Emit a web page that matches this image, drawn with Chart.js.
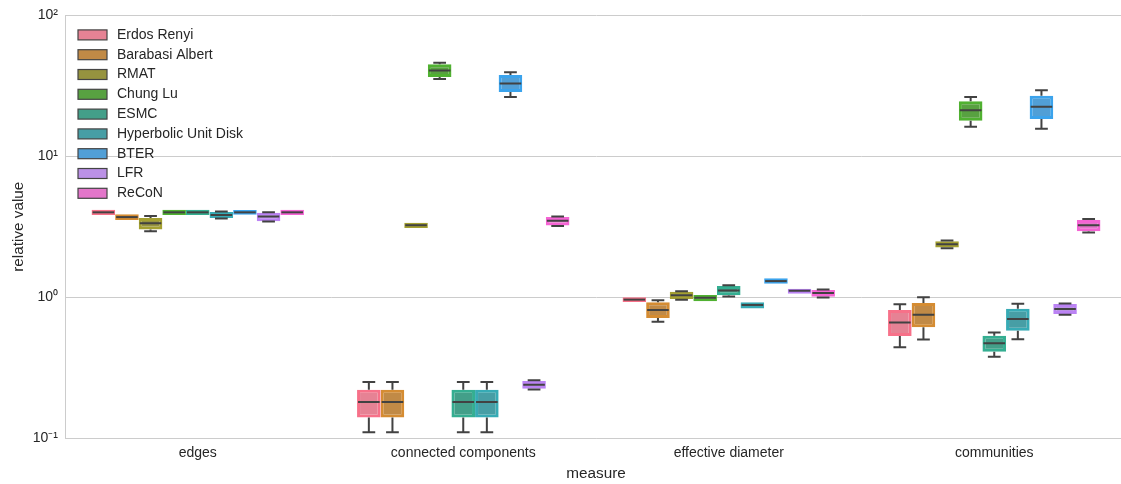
<!DOCTYPE html>
<html><head><meta charset="utf-8">
<script src="https://cdn.jsdelivr.net/npm/chart.js@4.4.1/dist/chart.umd.min.js"></script>
<style>html,body{margin:0;padding:0;background:#fff;overflow:hidden}#wrap{width:1121px;height:484px;overflow:hidden}</style>
</head><body><div id="wrap"><canvas id="c" width="1127" height="484"></canvas></div>
<script>
const categories = ['edges', 'connected components', 'effective diameter', 'communities'];
const seriesNames = ['Erdos Renyi', 'Barabasi Albert', 'RMAT', 'Chung Lu', 'ESMC', 'Hyperbolic Unit Disk', 'BTER', 'LFR', 'ReCoN'];
const yTicks = [0.1, 1, 10, 100];
const yTickLabels = ['10⁻¹', '10⁰', '10¹', '10²'];

// per category: [whisker low, q1, median, q3, whisker high]
const erdosRenyi   = [[3.83, 3.83, 4.0, 4.18, 4.18], [0.11, 0.14, 0.18, 0.22, 0.25], [0.925, 0.925, 0.96, 1.0, 1.0], [0.44, 0.53, 0.66, 0.81, 0.89]];
const barabasi     = [[3.53, 3.53, 3.7, 3.88, 3.88], [0.11, 0.14, 0.18, 0.22, 0.25], [0.67, 0.71, 0.81, 0.92, 0.95], [0.50, 0.61, 0.75, 0.91, 1.0]];
const rmat         = [[2.94, 3.02, 3.34, 3.65, 3.77], [3.1, 3.1, 3.24, 3.38, 3.38], [0.96, 0.97, 1.03, 1.09, 1.1], [2.22, 2.25, 2.37, 2.49, 2.52]];
const chungLu      = [[3.83, 3.83, 4.0, 4.18, 4.18], [35.3, 36.5, 40.6, 45.0, 46.1], [0.935, 0.935, 0.99, 1.035, 1.035], [16.2, 17.9, 21.2, 24.6, 26.3]];
const esmc         = [[3.83, 3.83, 4.0, 4.18, 4.18], [0.11, 0.14, 0.18, 0.22, 0.25], [1.01, 1.03, 1.115, 1.2, 1.215], [0.377, 0.409, 0.471, 0.533, 0.56]];
const hyperbolic   = [[3.62, 3.65, 3.83, 4.02, 4.05], [0.11, 0.14, 0.18, 0.22, 0.25], [0.83, 0.83, 0.88, 0.92, 0.92], [0.503, 0.578, 0.70, 0.826, 0.897]];
const bter         = [[3.85, 3.85, 4.0, 4.15, 4.15], [26.3, 28.6, 32.9, 37.7, 39.5], [1.245, 1.245, 1.30, 1.36, 1.36], [15.7, 18.4, 22.5, 26.9, 29.4]];
const lfr          = [[3.44, 3.45, 3.73, 3.98, 4.0], [0.221, 0.224, 0.239, 0.254, 0.257], [1.055, 1.055, 1.11, 1.145, 1.145], [0.75, 0.759, 0.823, 0.893, 0.9]];
const recon        = [[3.83, 3.83, 4.0, 4.18, 4.18], [3.2, 3.22, 3.48, 3.7, 3.73], [0.995, 1.005, 1.07, 1.125, 1.135], [2.88, 2.94, 3.24, 3.53, 3.59]];

const seriesStats = [erdosRenyi, barabasi, rmat, chungLu, esmc, hyperbolic, bter, lfr, recon];
const edgeColors = ['#f77189', '#d58c32', '#a4a031', '#50b131', '#34ae91', '#37abb5', '#3ba3ec', '#bb83f4', '#f564d4'];
const fillColors = ['#e68294', '#c18a46', '#96933f', '#58a141', '#439f89', '#479ea5', '#519fd6', '#bb91e6', '#e376ca'];

const TEXT = '#262626';
const GRID = '#cccccc';
const FONT = 'Liberation Sans, Arial, sans-serif';

const boxPlugin = {
  id: 'boxWhiskers',
  afterDatasetsDraw(chart) {
    const ctx = chart.ctx;
    const y = chart.scales.y;
    ctx.save();
    ctx.strokeStyle = '#424242';
    ctx.lineWidth = 2;
    ctx.lineCap = 'butt';
    chart.data.datasets.forEach((ds, i) => {
      const meta = chart.getDatasetMeta(i);
      meta.data.forEach((el, j) => {
        const s = ds.stats[j];
        const x = el.x, w = el.width;
        const yLo = y.getPixelForValue(s[0]);
        const yQ1 = y.getPixelForValue(s[1]);
        const yMed = y.getPixelForValue(s[2]);
        const yQ3 = y.getPixelForValue(s[3]);
        const yHi = y.getPixelForValue(s[4]);
        ctx.beginPath();
        if (s[4] !== s[3]) {
          ctx.moveTo(x, yQ3); ctx.lineTo(x, yHi);
          ctx.moveTo(x - w * 0.27, yHi); ctx.lineTo(x + w * 0.27, yHi);
        }
        if (s[0] !== s[1]) {
          ctx.moveTo(x, yQ1); ctx.lineTo(x, yLo);
          ctx.moveTo(x - w * 0.27, yLo); ctx.lineTo(x + w * 0.27, yLo);
        }
        ctx.moveTo(x - w / 2 + 1, yMed); ctx.lineTo(x + w / 2 - 1, yMed);
        ctx.stroke();
      });
    });
    ctx.restore();
  }
};

const legendPlugin = {
  id: 'innerLegend',
  afterDatasetsDraw(chart) {
    const ctx = chart.ctx;
    const a = chart.chartArea;
    ctx.save();
    ctx.font = '14px ' + FONT;
    ctx.textBaseline = 'middle';
    chart.data.datasets.forEach((ds, i) => {
      const cy = a.top + 19.5 + i * 19.8;
      ctx.fillStyle = ds.backgroundColor;
      ctx.fillRect(a.left + 13, cy - 5, 29, 10);
      ctx.strokeStyle = '#444444';
      ctx.lineWidth = 1.2;
      ctx.strokeRect(a.left + 13, cy - 5, 29, 10);
      ctx.fillStyle = TEXT;
      ctx.fillText(ds.label, a.left + 52, cy);
    });
    ctx.restore();
  }
};

new Chart(document.getElementById('c'), {
  type: 'bar',
  data: {
    labels: categories,
    datasets: seriesNames.map((name, i) => ({
      label: name,
      data: seriesStats[i].map(s => [s[1], s[3]]),
      stats: seriesStats[i],
      backgroundColor: fillColors[i],
      borderColor: edgeColors[i],
      borderWidth: 3,
      borderSkipped: false,
      categoryPercentage: 0.8,
      barPercentage: 1.0
    }))
  },
  options: {
    responsive: false,
    animation: false,
    devicePixelRatio: 1,
    layout: { padding: { top: 13, right: 0, left: 0, bottom: 0 } },
    plugins: { legend: { display: false }, tooltip: { enabled: false } },
    scales: {
      x: {
        grid: { display: false, drawTicks: false },
        border: { display: true, color: GRID, width: 1 },
        ticks: { color: TEXT, font: { size: 14, family: FONT }, padding: 7 },
        title: { display: true, text: 'measure', color: TEXT, font: { size: 15.3, family: FONT }, padding: { top: 4, bottom: 1 } },
        afterFit(scale) { scale.height = 46; }
      },
      y: {
        type: 'logarithmic',
        min: 0.1,
        max: 100,
        afterBuildTicks(scale) { scale.ticks = yTicks.map(v => ({ value: v })); },
        ticks: {
          color: TEXT, font: { size: 14, family: FONT }, padding: 7,
          callback(value) { const k = yTicks.indexOf(value); return k >= 0 ? yTickLabels[k] : ''; }
        },
        grid: { color: GRID, lineWidth: 1, drawTicks: false },
        border: { display: true, color: GRID, width: 1 },
        title: { display: true, text: 'relative value', color: TEXT, font: { size: 15.3, family: FONT }, padding: { top: 10, bottom: 4 } },
        afterFit(scale) { scale.width = 65; }
      }
    }
  },
  plugins: [boxPlugin, legendPlugin]
});
</script>
</body></html>
